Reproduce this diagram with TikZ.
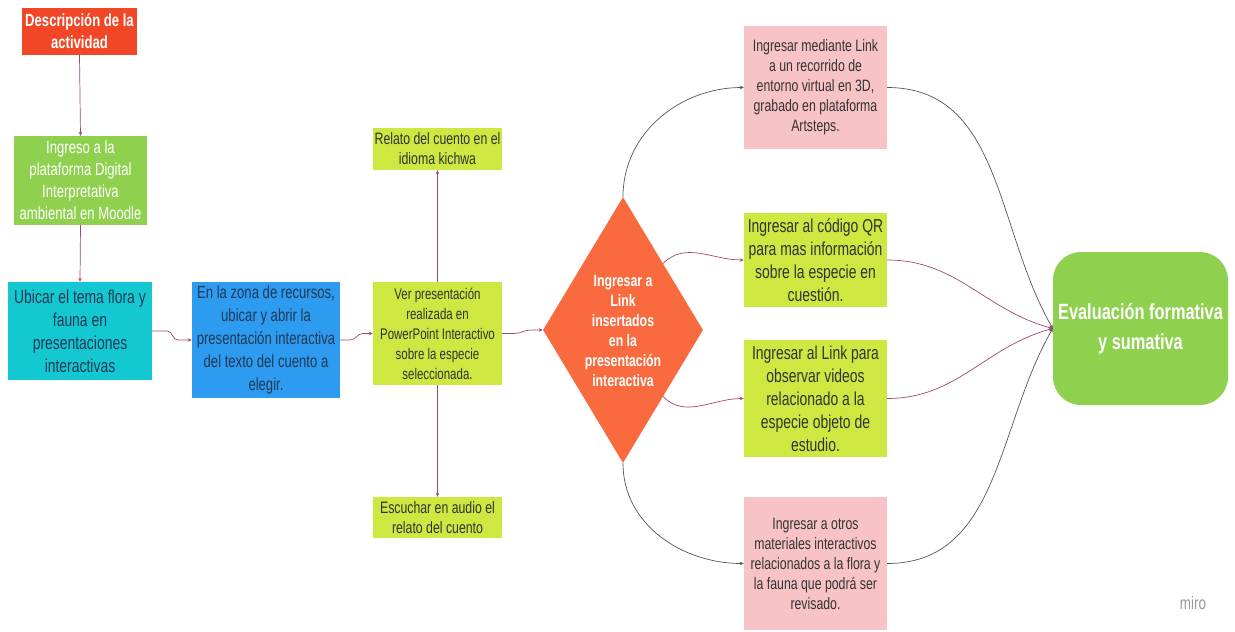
\documentclass[tikz,border=0pt]{standalone}
\usepackage{fontspec}
\setmainfont[FakeStretch=0.745]{Liberation Sans}
\usetikzlibrary{shapes.geometric,arrows.meta}
\definecolor{cRed}{HTML}{F24726}
\definecolor{cGreen}{HTML}{8FD14F}
\definecolor{cCyan}{HTML}{14C8D2}
\definecolor{cBlue}{HTML}{2D9BF0}
\definecolor{cLime}{HTML}{CEE741}
\definecolor{cPink}{HTML}{F8C3C5}
\definecolor{cOrange}{HTML}{F96A3E}
\definecolor{cLine}{HTML}{A0467A}
\definecolor{cGray}{HTML}{555555}
\definecolor{cText}{HTML}{333333}
\definecolor{cNavy}{HTML}{1E3A55}
\tikzset{
  box/.style={rectangle, inner sep=2pt, align=center, text=cText},
  conn/.style={draw=cLine, line width=0.7pt, -{Stealth[length=4pt,width=3.5pt]}},
  gconn/.style={draw=cGray, line width=0.7pt, -{Stealth[length=4pt,width=3.5pt]}},
  fs/.style 2 args={font=\fontsize{#1}{#2}\selectfont},
}
\begin{document}
\begin{tikzpicture}[x=1pt,y=-1pt]
\useasboundingbox (0,0) rectangle (1235,632);
\fill[white] (0,0) rectangle (1235,632);
% left column
\node[box, fill=cRed, text=white, minimum width=115pt, minimum height=47pt, font=\bfseries\fontsize{17.6}{22}\selectfont] (desc) at (79.5,31.5) {Descripción de la\\actividad};
\node[box, fill=cGreen, text=white, minimum width=133pt, minimum height=89pt, fs={17.6}{22}] (ingreso) at (80.5,180.5) {Ingreso a la\\plataforma Digital\\Interpretativa\\ambiental en Moodle};
\node[box, fill=cCyan, text=cNavy, minimum width=144pt, minimum height=98pt, fs={18.7}{23}] (ubicar) at (80,331) {Ubicar el tema flora y\\fauna en\\presentaciones\\interactivas};
\node[box, fill=cBlue, text=cNavy, minimum width=148pt, minimum height=116pt, fs={17.6}{23}] (zona) at (266,340) {En la zona de recursos,\\ubicar y abrir la\\presentación interactiva\\del texto del cuento a\\elegir.};
\node[box, fill=cLime, minimum width=129pt, minimum height=103pt, fs={15.4}{20}] (ver) at (437.5,333.5) {Ver presentación\\realizada en\\PowerPoint Interactivo\\sobre la especie\\seleccionada.};
\node[box, fill=cLime, minimum width=129pt, minimum height=42pt, fs={16.5}{20}] (relato) at (437.5,149) {Relato del cuento en el\\idioma kichwa};
\node[box, fill=cLime, minimum width=129pt, minimum height=41pt, fs={16.5}{20}] (escuchar) at (437.5,517.5) {Escuchar en audio el\\relato del cuento};
% diamond
\node[diamond, fill=cOrange, minimum width=160pt, minimum height=266pt, inner sep=0pt] (dia) at (623,330) {};
\node[align=center, text=white, font=\bfseries\fontsize{16.5}{20}\selectfont] (diatext) at (623,331) {Ingresar a\\Link\\insertados\\en la\\presentación\\interactiva};
% right column
\node[box, fill=cPink, minimum width=143pt, minimum height=123pt, fs={16.5}{20}] (ptop) at (815.5,87.5) {Ingresar mediante Link\\a un recorrido de\\entorno virtual en 3D,\\grabado en plataforma\\Artsteps.};
\node[box, fill=cLime, minimum width=143pt, minimum height=94pt, fs={18.7}{23}] (qr) at (815.5,260) {Ingresar al código QR\\para mas información\\sobre la especie en\\cuestión.};
\node[box, fill=cLime, minimum width=143pt, minimum height=117pt, fs={18.7}{23}] (video) at (815.5,398.5) {Ingresar al Link para\\observar videos\\relacionado a la\\especie objeto de\\estudio.};
\node[box, fill=cPink, minimum width=143pt, minimum height=133pt, fs={16.5}{20}] (pbot) at (815.5,563.5) {Ingresar a otros\\materiales interactivos\\relacionados a la flora y\\la fauna que podrá ser\\revisado.};
\node[rectangle, rounded corners=28pt, fill=cGreen, text=white, align=center, minimum width=175pt, minimum height=153pt, font=\bfseries\fontsize{22}{30}\selectfont] (eval) at (1140.5,328.5) {Evaluación formativa\\y sumativa};
\node[text=black!40, font=\fontsize{18}{20}\selectfont] (miro) at (1193,603) {miro};
% connectors
\draw[conn] (desc.south) -- (ingreso.north);
\draw[conn] (ingreso.south) -- (ubicar.north);
\draw[conn] (ubicar.east) -- ++(15,0) to[out=0,in=180] ([xshift=-14pt]zona.west) -- (zona.west);
\draw[conn] (zona.east) -- ++(10,0) to[out=0,in=180] ([xshift=-10pt]ver.west) -- (ver.west);
\draw[conn] (ver.east) -- ++(12,0) to[out=0,in=180] ([xshift=-12pt]dia.west) -- (dia.west);
\draw[conn] (ver.north) -- (relato.south);
\draw[conn] (ver.south) -- (escuchar.north);
\draw[gconn] (dia.north) to[out=90,in=180] (ptop.west);
\draw[conn] (dia.north east) to[out=45,in=180] (qr.west);
\draw[conn] (dia.south east) to[out=-45,in=180] (video.west);
\draw[gconn] (dia.south) to[out=-90,in=180] (pbot.west);
\draw[gconn] (ptop.east) to[out=0,in=120] (eval.west);
\draw[conn] (qr.east) to[out=0,in=165] (eval.west);
\draw[conn] (video.east) to[out=0,in=195] (eval.west);
\draw[gconn] (pbot.east) to[out=0,in=240] (eval.west);
\end{tikzpicture}
\end{document}
